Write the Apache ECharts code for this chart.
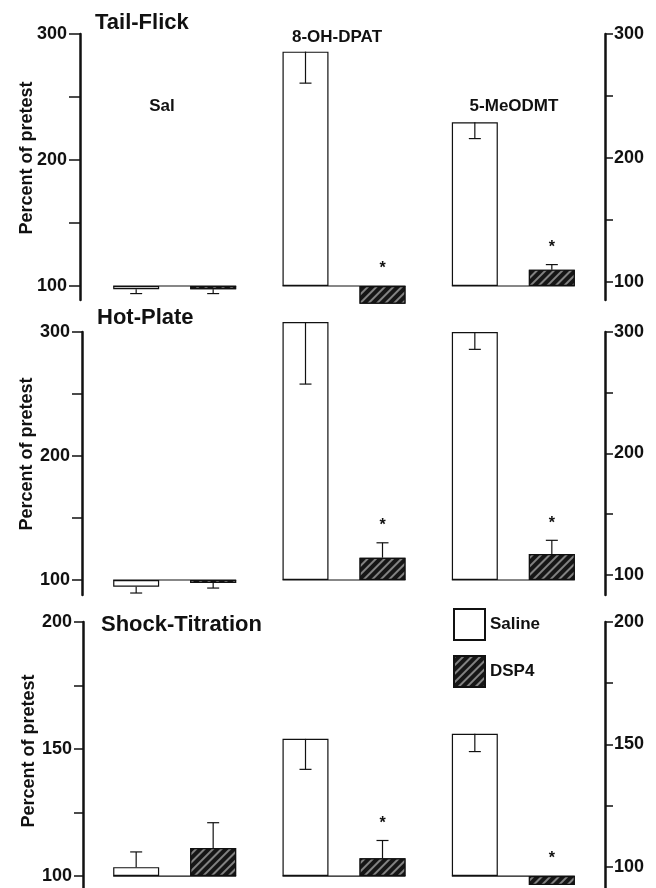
<!DOCTYPE html>
<html>
<head>
<meta charset="utf-8">
<script src="https://cdn.jsdelivr.net/npm/echarts@6/dist/echarts.min.js"></script>
<style>
html,body{margin:0;padding:0;background:#fff;}
#chart{width:656px;height:888px;}
</style>
</head>
<body>
<div id="chart"></div>
<script>
// ---------------- DATA ----------------
const groups = ['Sal', '8-OH-DPAT', '5-MeODMT'];
const panelTitles = ['Tail-Flick', 'Hot-Plate', 'Shock-Titration'];
const seriesNames = ['Saline', 'DSP4'];
const yAxisName = 'Percent of pretest';

// mean percent of pretest
const tailSaline  = [97.5, 286, 230];
const tailDSP4    = [97.5, 86, 113];
const hotSaline   = [94.5, 308, 300];
const hotDSP4     = [97.5, 118, 121];
const shockSaline = [103.5, 154, 156];
const shockDSP4   = [111, 107, 96.5];

// error (SEM) and the side on which the whisker is drawn (1 = up, -1 = down)
const tailSalineErr  = [3.5, 25, 13];
const tailDSP4Err    = [3.5, 0, 4];
const hotSalineErr   = [5, 50, 14];
const hotDSP4Err     = [4, 12, 11];
const shockSalineErr = [6, 12, 7];
const shockDSP4Err   = [10, 7, 0];

const tailSalineDir  = [-1, -1, -1];
const tailDSP4Dir    = [-1, 1, 1];
const hotSalineDir   = [-1, -1, -1];
const hotDSP4Dir     = [-1, 1, 1];
const shockSalineDir = [1, -1, -1];
const shockDSP4Dir   = [1, 1, 1];

// significant difference from Saline (*)
const dsp4Significant = [false, true, true];

// axis ticks / labels
const ticks300  = [100, 150, 200, 250, 300];
const labels300 = [100, 200, 300];
const ticks200  = [100, 125, 150, 175, 200];
const labels200 = [100, 150, 200];

// ---------------- LAYOUT / STYLE ----------------
const BASE = 100;               // bars start at 100 % of pretest
const FONT = '"Liberation Sans", Arial, Helvetica, sans-serif';
const INK = '#111';
const BAR_W = 46, GAP_PX = 31, CAP = 6;

const panels = [
  { title: panelTitles[0], sal: tailSaline, dsp: tailDSP4, salErr: tailSalineErr, dspErr: tailDSP4Err,
    salDir: tailSalineDir, dspDir: tailDSP4Dir, ticks: ticks300, labels: labels300,
    top: 34, height: 266, lMin: 88.9, lMax: 300, rMin: 85.5, rMax: 300,
    lOff: 10, lTick: 11, lMargin: 13, titleX: 95, titleY: 23, nameX: 27, nameY: 158 },
  { title: panelTitles[1], sal: hotSaline, dsp: hotDSP4, salErr: hotSalineErr, dspErr: hotDSP4Err,
    salDir: hotSalineDir, dspDir: hotDSP4Dir, ticks: ticks300, labels: labels300,
    top: 332, height: 263, lMin: 87.9, lMax: 300, rMin: 83.5, rMax: 300,
    lOff: 8, lTick: 10, lMargin: 12, titleX: 97, titleY: 318, nameX: 27, nameY: 454 },
  { title: panelTitles[2], sal: shockSaline, dsp: shockDSP4, salErr: shockSalineErr, dspErr: shockDSP4Err,
    salDir: shockSalineDir, dspDir: shockDSP4Dir, ticks: ticks200, labels: labels200,
    top: 622, height: 266, lMin: 95.3, lMax: 200, rMin: 91.4, rMax: 200,
    lOff: 7, lTick: 9, lMargin: 11, titleX: 101, titleY: 625, nameX: 29, nameY: 751 }
];

const grid = [], xAxis = [], yAxis = [], series = [], graphic = [];

function axisCommon(p, side) {
  const left = side === 'left';
  return {
    type: 'value',
    position: side,
    offset: left ? p.lOff : 7,
    min: (left ? p.lMin : p.rMin) - BASE,
    max: (left ? p.lMax : p.rMax) - BASE,
    splitLine: { show: false },
    axisLine: { show: true, lineStyle: { color: INK, width: 2.5 } },
    axisTick: { show: true, inside: false, length: left ? p.lTick : 8,
      customValues: p.ticks.map(v => v - BASE), lineStyle: { color: INK, width: 1.5 } },
    axisLabel: { customValues: p.labels.map(v => v - BASE), formatter: v => String(Math.round(v + BASE)),
      margin: left ? p.lMargin : 9, color: INK, fontSize: 18, fontWeight: 'bold', fontFamily: FONT }
  };
}

function renderAnnot(params, api) {
  const cat = api.value(0), s = api.value(1), v = api.value(2), err = api.value(3), dir = api.value(4), star = api.value(5);
  const c = api.coord([cat, 0]);
  const half = (BAR_W + GAP_PX) / 2;
  const x = c[0] + (s === 0 ? -half : half);
  const yBase = c[1];
  const yTop = api.coord([cat, v])[1];
  const children = [];
  const ls = { stroke: INK, lineWidth: 1.2 };
  let yHigh = Math.min(yBase, yTop);
  if (err > 0) {
    const yEnd = api.coord([cat, v + dir * err])[1];
    children.push({ type: 'line', shape: { x1: x, y1: yTop, x2: x, y2: yEnd }, style: ls });
    children.push({ type: 'line', shape: { x1: x - CAP, y1: yEnd, x2: x + CAP, y2: yEnd }, style: ls });
    yHigh = Math.min(yHigh, yEnd);
  }
  if (s === 1) {
    children.push({ type: 'line', shape: { x1: c[0] - half - BAR_W / 2, y1: yBase, x2: c[0] + half + BAR_W / 2, y2: yBase },
      style: { stroke: INK, lineWidth: 1.2 } });
  }
  if (star) {
    children.push({ type: 'text', x: x, y: yHigh - 17,
      style: { text: '*', fill: INK, font: 'bold 16px ' + FONT, align: 'center', verticalAlign: 'middle' } });
  }
  return { type: 'group', children: children };
}

const hatch = { symbol: 'rect', symbolSize: 1, color: 'rgba(175,175,175,0.7)',
  dashArrayX: [1, 0], dashArrayY: [1.2, 4], rotation: -Math.PI / 4 };

panels.forEach((p, i) => {
  grid.push({ left: 90, right: 58, top: p.top, height: p.height, containLabel: false });
  xAxis.push({ type: 'category', gridIndex: i, data: groups, show: false });
  yAxis.push(Object.assign({ gridIndex: i }, axisCommon(p, 'left')));
  yAxis.push(Object.assign({ gridIndex: i }, axisCommon(p, 'right')));

  series.push({
    name: seriesNames[0], type: 'bar', xAxisIndex: i, yAxisIndex: 2 * i, clip: false, silent: true,
    barWidth: BAR_W, barGap: (GAP_PX / BAR_W * 100).toFixed(1) + '%',
    data: p.sal.map(v => v - BASE),
    itemStyle: { color: '#fff', borderColor: INK, borderWidth: 1.2 }
  });
  series.push({
    name: seriesNames[1], type: 'bar', xAxisIndex: i, yAxisIndex: 2 * i, clip: false, silent: true,
    barWidth: BAR_W, barGap: (GAP_PX / BAR_W * 100).toFixed(1) + '%',
    data: p.dsp.map(v => v - BASE),
    itemStyle: { color: '#161616', borderColor: INK, borderWidth: 1.2, decal: hatch }
  });
  const annot = [];
  groups.forEach((g, k) => {
    annot.push([k, 0, p.sal[k] - BASE, p.salErr[k], p.salDir[k], 0]);
    annot.push([k, 1, p.dsp[k] - BASE, p.dspErr[k], p.dspDir[k], dsp4Significant[k] ? 1 : 0]);
  });
  series.push({
    type: 'custom', xAxisIndex: i, yAxisIndex: 2 * i, clip: false, silent: true, z: 5,
    renderItem: renderAnnot, encode: { x: 0, y: 2 }, data: annot
  });

  graphic.push({ type: 'text', x: p.titleX, y: p.titleY,
    style: { text: p.title, fill: INK, font: 'bold 22px ' + FONT, align: 'left', verticalAlign: 'middle' } });
  graphic.push({ type: 'text', x: p.nameX, y: p.nameY, rotation: Math.PI / 2,
    style: { text: yAxisName, fill: INK, font: 'bold 18px ' + FONT, align: 'center', verticalAlign: 'middle' } });
});

// group labels in the top panel
const groupLabelPos = [[162, 106], [337, 37], [514, 106]];
groups.forEach((g, k) => {
  graphic.push({ type: 'text', x: groupLabelPos[k][0], y: groupLabelPos[k][1],
    style: { text: g, fill: INK, font: 'bold 17px ' + FONT, align: 'center', verticalAlign: 'middle' } });
});

const chart = echarts.init(document.getElementById('chart'), null, { renderer: 'canvas' });
chart.setOption({
  animation: false,
  backgroundColor: '#fff',
  grid, xAxis, yAxis, series, graphic,
  legend: {
    data: seriesNames, orient: 'vertical', left: 453, top: 608, padding: 0,
    itemWidth: 31, itemHeight: 31, itemGap: 14,
    icon: 'rect', selectedMode: false,
    textStyle: { fontSize: 17, fontWeight: 'bold', fontFamily: FONT, color: INK }
  }
});
</script>
</body>
</html>
